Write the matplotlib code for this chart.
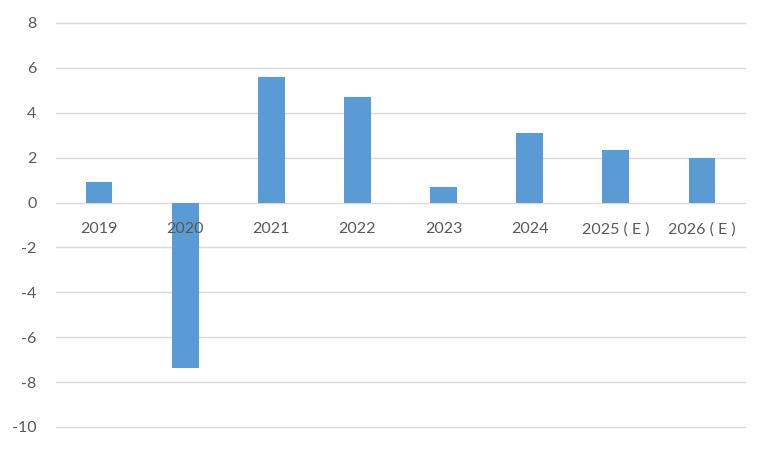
import matplotlib.pyplot as plt
import numpy as np

# growth values
years = ['2019', '2020', '2021', '2022', '2023', '2024', '2025 ( E )', '2026 ( E )']
values = [0.92, -7.38, 5.6, 4.7, 0.7, 3.1, 2.35, 2.0]

plt.rcParams['font.family'] = ['Lato', 'DejaVu Sans']
plt.rcParams['axes.unicode_minus'] = False

fig = plt.figure(figsize=(7.68, 4.5), dpi=100)
ax = fig.add_axes([56/768, 1-427/450, (745-56)/768, (427-23)/450])

x = np.arange(len(years))
ax.bar(x, values, width=0.31, color='#5B9BD5', zorder=3)

ax.set_xlim(-0.5, len(years)-0.5)
ax.set_ylim(-10, 8)
ax.set_yticks(range(-10, 9, 2))
ax.yaxis.grid(True, color='#d9d9d9', linewidth=1, zorder=0)
for gl in ax.get_ygridlines():
    gl.set_clip_on(False)

# x labels sit just under the zero line, drawn over the bars
ax.spines['bottom'].set_position(('data', 0))
for s in ax.spines.values():
    s.set_visible(False)
ax.set_xticks(x)
ax.set_xticklabels(years)
ax.xaxis.set_zorder(5)
ax.tick_params(axis='x', length=0, pad=14, labelsize=11.5, labelcolor='#595959')
ax.tick_params(axis='y', length=0, pad=14, labelsize=11.5, labelcolor='#595959')

fig.savefig('out.png', dpi=100)
